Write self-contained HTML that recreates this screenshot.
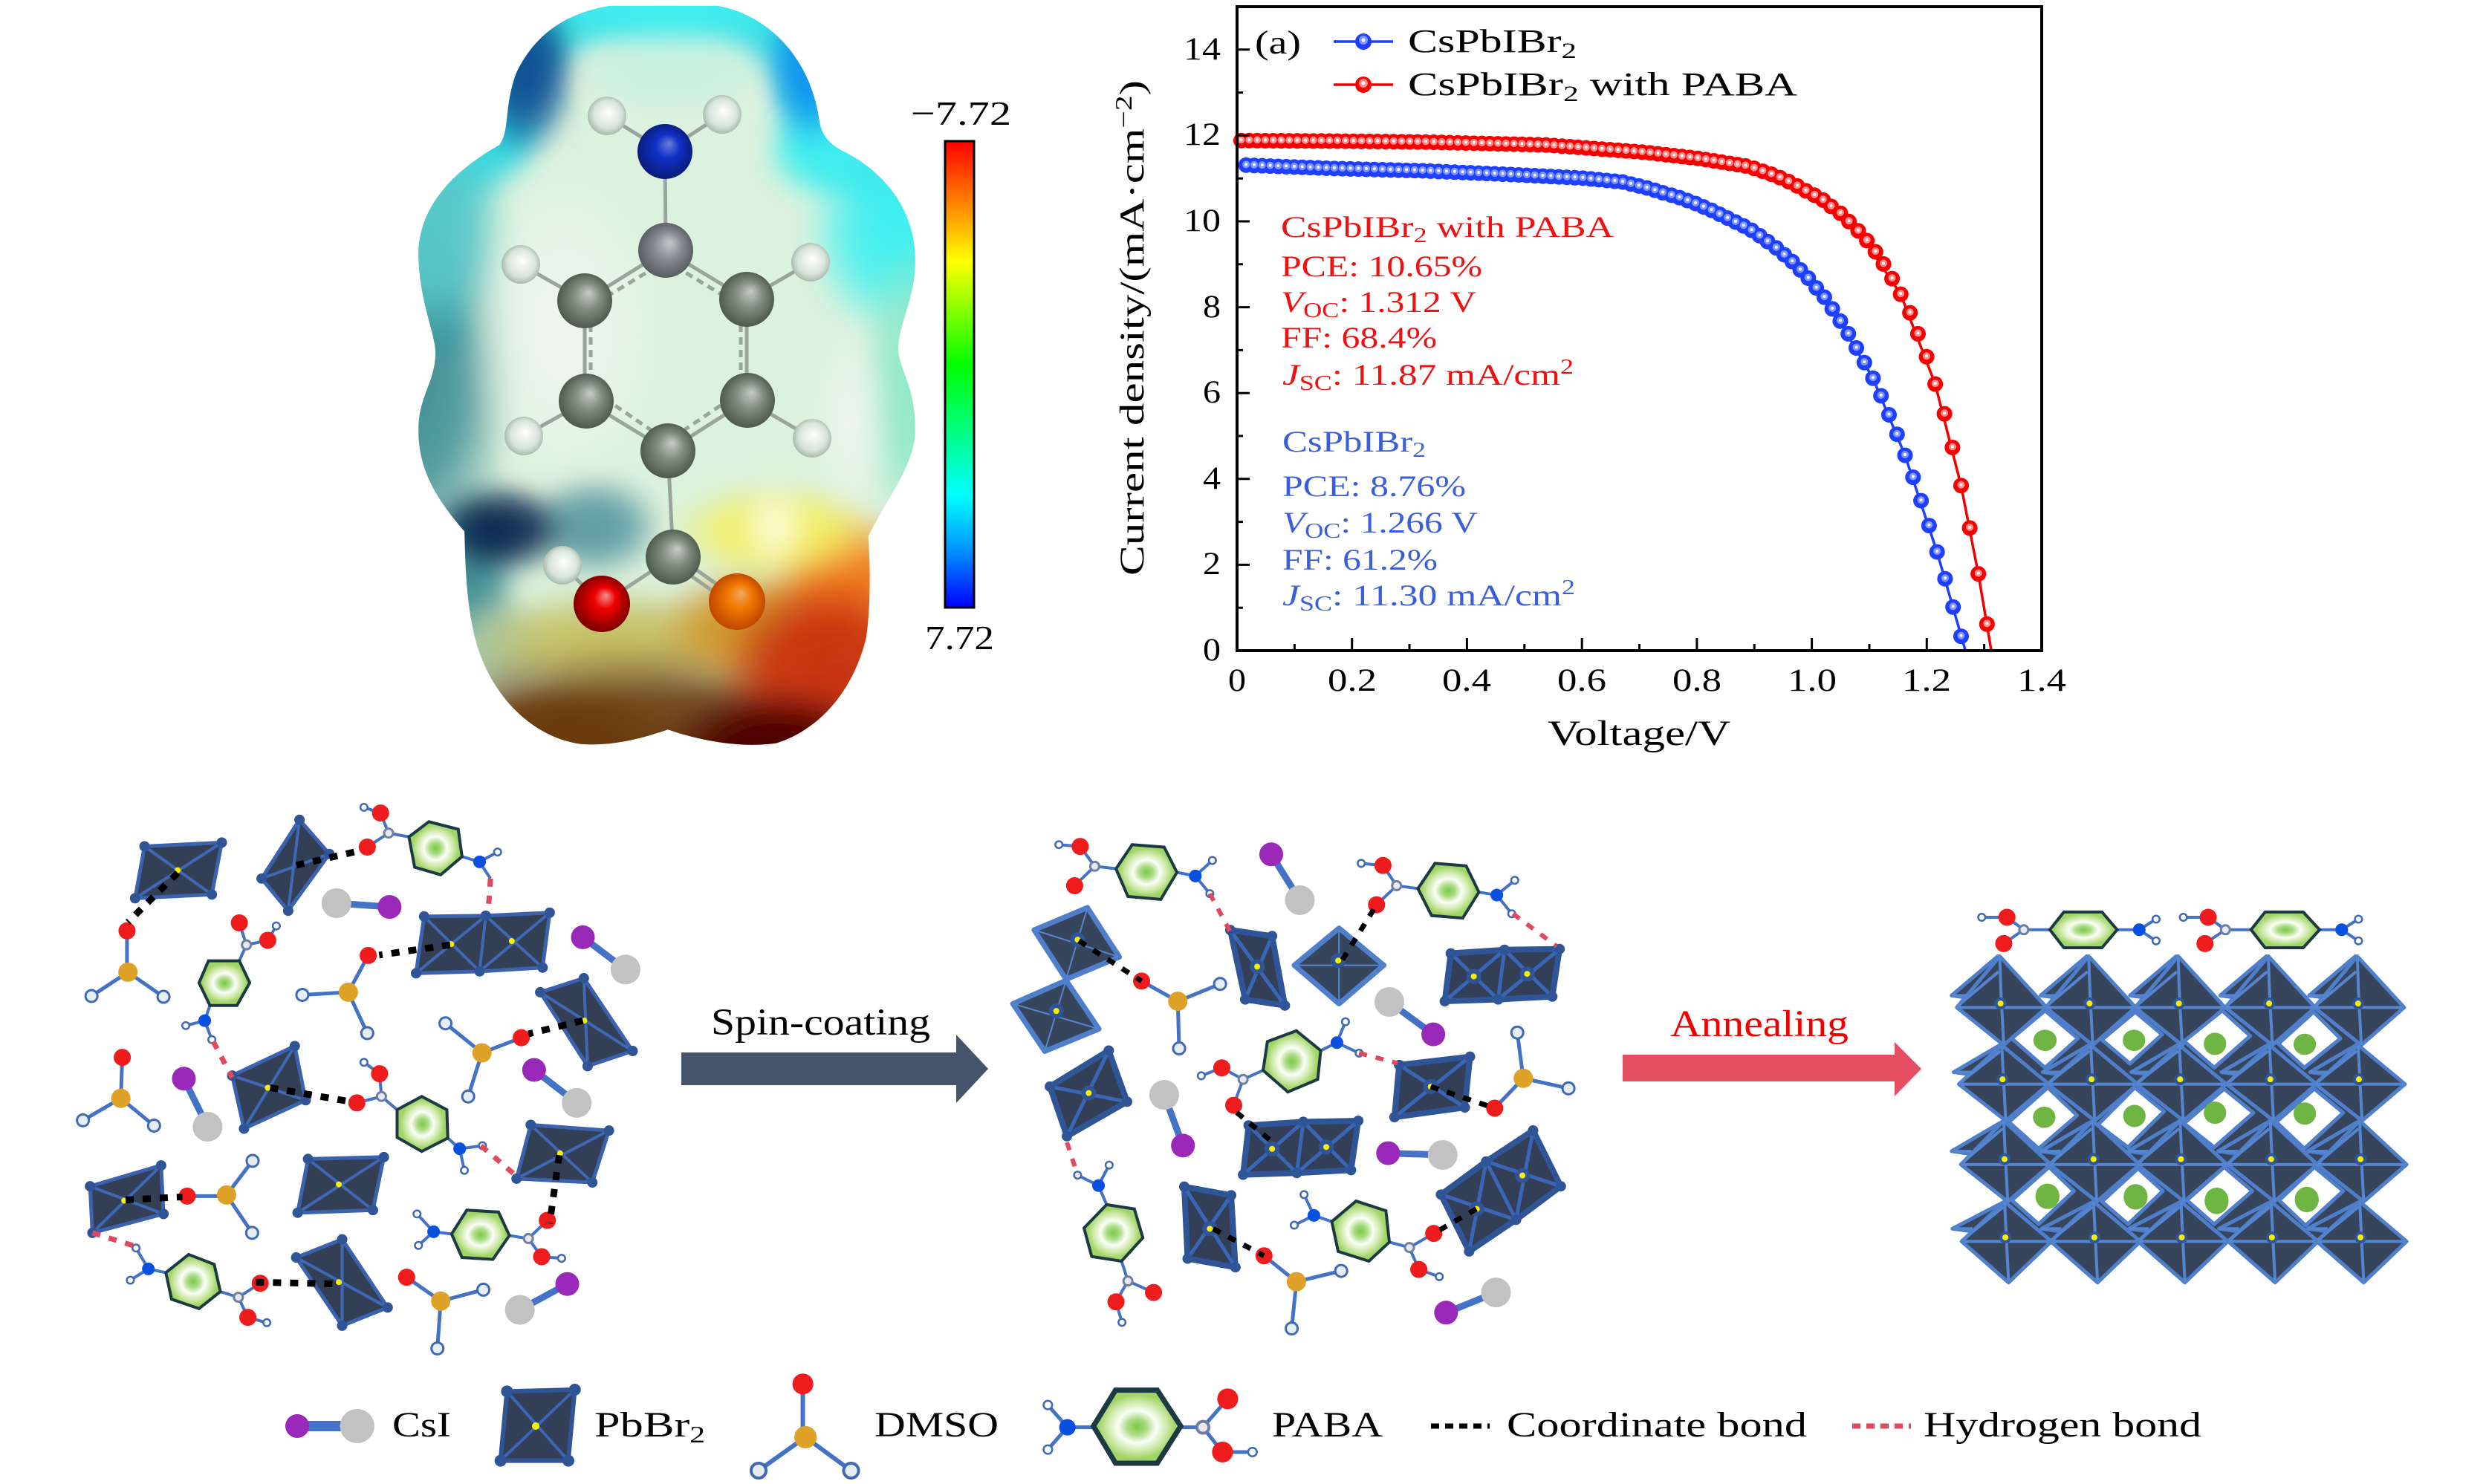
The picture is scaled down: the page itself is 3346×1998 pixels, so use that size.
<!DOCTYPE html>
<html><head><meta charset="utf-8"><style>
html,body{margin:0;padding:0;background:#fff}
svg{display:block}
path,polygon,polyline,line{vector-effect:non-scaling-stroke}
text{font-family:"Liberation Serif",serif;fill:#000}
.bd{fill:none;stroke:#4472c4;stroke-width:5}
.cs{fill:none;stroke:#4472c4;stroke-width:9}
.cb{fill:none;stroke:#000;stroke-width:9;stroke-dasharray:11 12}
.hb{fill:none;stroke:#e04a60;stroke-width:7;stroke-dasharray:11 12}
.at{fill:none;stroke-linecap:round}
.oct{fill:#333f54;stroke:#3b62ae;stroke-width:5;stroke-linejoin:round}
.ln{fill:none;stroke:#3f68b5;stroke-width:4}
.oc2{fill:#323f56;stroke:#2f5597;stroke-width:8;stroke-linejoin:round}
.ln2{fill:none;stroke:#3a66b8;stroke-width:5}
.oc3{fill:#37455c;stroke:#4f7fcb;stroke-width:5;stroke-linejoin:round}
.ln3{fill:none;stroke:#5585cf;stroke-width:2}
.ring{stroke:#1c3a44;stroke-width:4;fill:url(#rg)}
.O{stroke:#ee1c1c;stroke-width:23}
.S{stroke:#dfa228;stroke-width:26}
.HO{stroke:#3f68b5;stroke-width:19}
.HI{stroke:#e6edf6;stroke-width:13}
.hO{stroke:#3f68b5;stroke-width:12}
.hI{stroke:#fff;stroke-width:7}
.N{stroke:#0a50e0;stroke-width:17}
.C{stroke:#6f7fa2;stroke-width:15}
.CI{stroke:#e8e8ee;stroke-width:9}
.I{stroke:#9a28b8;stroke-width:32}
.G{stroke:#c2c2c2;stroke-width:40}
.Y{stroke:#f8f000;stroke-width:8}
.Z{stroke:#2f5597;stroke-width:20}
.K{stroke:#2f5597;stroke-width:14}
</style></head><body>
<svg xmlns="http://www.w3.org/2000/svg" width="3346" height="1998" viewBox="0 0 3346 1998">
<defs>
<radialGradient id="rg"><stop offset="0" stop-color="#7cc848"/><stop offset=".22" stop-color="#aadc84"/><stop offset=".44" stop-color="#fbfdf8"/><stop offset=".68" stop-color="#cde9a8"/><stop offset=".88" stop-color="#a0d466"/></radialGradient>
<linearGradient id="cbar" x1="0" y1="0" x2="0" y2="1"><stop offset="0" stop-color="#ff0000"/><stop offset=".13" stop-color="#ff8000"/><stop offset=".257" stop-color="#ffff00"/><stop offset=".48" stop-color="#00ff00"/><stop offset=".62" stop-color="#00ff80"/><stop offset=".76" stop-color="#00ffff"/><stop offset=".88" stop-color="#0090ff"/><stop offset="1" stop-color="#0000ff"/></linearGradient>
<radialGradient id="aC" cx=".5" cy=".5" r=".55" fx=".58" fy=".35"><stop offset="0" stop-color="#c6ccc4"/><stop offset=".45" stop-color="#7f8c7e"/><stop offset="1" stop-color="#465244"/></radialGradient>
<radialGradient id="aC2" cx=".5" cy=".5" r=".55" fx=".58" fy=".35"><stop offset="0" stop-color="#c8c8cc"/><stop offset=".45" stop-color="#888c90"/><stop offset="1" stop-color="#50565a"/></radialGradient>
<radialGradient id="aH" cx=".5" cy=".5" r=".6" fx=".55" fy=".4"><stop offset="0" stop-color="#ffffff"/><stop offset=".6" stop-color="#d8e4da"/><stop offset="1" stop-color="#8fa294"/></radialGradient>
<radialGradient id="aN" cx=".5" cy=".5" r=".55" fx=".58" fy=".35"><stop offset="0" stop-color="#6a7fd8"/><stop offset=".4" stop-color="#1030c8"/><stop offset="1" stop-color="#081a70"/></radialGradient>
<radialGradient id="aO" cx=".5" cy=".5" r=".55" fx=".58" fy=".35"><stop offset="0" stop-color="#f09090"/><stop offset=".35" stop-color="#ee0000"/><stop offset="1" stop-color="#700000"/></radialGradient>
<radialGradient id="aO2" cx=".5" cy=".5" r=".55" fx=".58" fy=".35"><stop offset="0" stop-color="#f0a860"/><stop offset=".4" stop-color="#f07800"/><stop offset="1" stop-color="#b84000"/></radialGradient>
<radialGradient id="t1"><stop offset="0" stop-color="#0a4a90"/><stop offset=".5" stop-color="#0a4a90" stop-opacity=".85"/><stop offset="1" stop-color="#0a4a90" stop-opacity="0"/></radialGradient>
<radialGradient id="t2"><stop offset="0" stop-color="#0a90f0"/><stop offset=".5" stop-color="#0a90f0" stop-opacity=".85"/><stop offset="1" stop-color="#0a90f0" stop-opacity="0"/></radialGradient>
<radialGradient id="t3"><stop offset="0" stop-color="#40f0f0"/><stop offset=".5" stop-color="#40f0f0" stop-opacity=".85"/><stop offset="1" stop-color="#40f0f0" stop-opacity="0"/></radialGradient>
<radialGradient id="t4"><stop offset="0" stop-color="#3f8e94"/><stop offset=".5" stop-color="#3f8e94" stop-opacity=".85"/><stop offset="1" stop-color="#3f8e94" stop-opacity="0"/></radialGradient>
<radialGradient id="t5"><stop offset="0" stop-color="#f0f6ee"/><stop offset=".5" stop-color="#f0f6ee" stop-opacity=".6"/><stop offset="1" stop-color="#f0f6ee" stop-opacity="0"/></radialGradient>
<radialGradient id="t6"><stop offset="0" stop-color="#90e8c8"/><stop offset=".5" stop-color="#90e8c8" stop-opacity=".85"/><stop offset="1" stop-color="#90e8c8" stop-opacity="0"/></radialGradient>
<radialGradient id="t7"><stop offset="0" stop-color="#08264f"/><stop offset=".5" stop-color="#08264f" stop-opacity=".9"/><stop offset="1" stop-color="#08264f" stop-opacity="0"/></radialGradient>
<radialGradient id="t8"><stop offset="0" stop-color="#5a98a0"/><stop offset=".5" stop-color="#5a98a0" stop-opacity=".85"/><stop offset="1" stop-color="#5a98a0" stop-opacity="0"/></radialGradient>
<radialGradient id="t9"><stop offset="0" stop-color="#c4c060"/><stop offset=".5" stop-color="#c4c060" stop-opacity=".85"/><stop offset="1" stop-color="#c4c060" stop-opacity="0"/></radialGradient>
<radialGradient id="t10"><stop offset="0" stop-color="#f4f060"/><stop offset=".5" stop-color="#f4f060" stop-opacity=".85"/><stop offset="1" stop-color="#f4f060" stop-opacity="0"/></radialGradient>
<radialGradient id="t11"><stop offset="0" stop-color="#fbfbd8"/><stop offset=".5" stop-color="#fbfbd8" stop-opacity=".75"/><stop offset="1" stop-color="#fbfbd8" stop-opacity="0"/></radialGradient>
<radialGradient id="t12"><stop offset="0" stop-color="#f07818"/><stop offset=".5" stop-color="#f07818" stop-opacity=".9"/><stop offset="1" stop-color="#f07818" stop-opacity="0"/></radialGradient>
<radialGradient id="t13"><stop offset="0" stop-color="#c83010"/><stop offset=".55" stop-color="#c83010" stop-opacity=".9"/><stop offset="1" stop-color="#c83010" stop-opacity="0"/></radialGradient>
<radialGradient id="t14"><stop offset="0" stop-color="#4a0000"/><stop offset=".5" stop-color="#4a0000" stop-opacity=".9"/><stop offset="1" stop-color="#4a0000" stop-opacity="0"/></radialGradient>
<radialGradient id="t15"><stop offset="0" stop-color="#6a3a10"/><stop offset=".6" stop-color="#6a3a10" stop-opacity=".9"/><stop offset="1" stop-color="#6a3a10" stop-opacity="0"/></radialGradient>
<radialGradient id="t16"><stop offset="0" stop-color="#a8c8a8"/><stop offset=".5" stop-color="#a8c8a8" stop-opacity=".85"/><stop offset="1" stop-color="#a8c8a8" stop-opacity="0"/></radialGradient>
<radialGradient id="t18"><stop offset="0" stop-color="#5ac8c8"/><stop offset=".5" stop-color="#5ac8c8" stop-opacity=".85"/><stop offset="1" stop-color="#5ac8c8" stop-opacity="0"/></radialGradient>
<radialGradient id="t19"><stop offset="0" stop-color="#c8f0e0"/><stop offset=".5" stop-color="#c8f0e0" stop-opacity=".85"/><stop offset="1" stop-color="#c8f0e0" stop-opacity="0"/></radialGradient>
<radialGradient id="t20"><stop offset="0" stop-color="#d09020"/><stop offset=".5" stop-color="#d09020" stop-opacity=".85"/><stop offset="1" stop-color="#d09020" stop-opacity="0"/></radialGradient>
<filter id="bl" filterUnits="userSpaceOnUse" x="-100" y="-100" width="1768" height="1768"><feGaussianBlur stdDeviation="30"/></filter>
<filter id="bl2" filterUnits="userSpaceOnUse" x="-200" y="-200" width="1968" height="2000"><feGaussianBlur stdDeviation="24"/></filter>
<clipPath id="sil"><path d="M560 12L810 12C930 30 1030 120 1050 250C1055 280 1075 300 1110 315C1210 360 1275 440 1275 540C1275 620 1235 670 1235 725C1240 770 1275 800 1275 890C1275 960 1210 1030 1165 1110C1170 1180 1170 1260 1160 1320C1130 1430 1050 1510 950 1538C860 1550 760 1530 695 1510C630 1530 560 1545 490 1540C370 1525 270 1430 240 1310C222 1240 220 1170 218 1100C160 1040 110 980 110 890C110 820 150 790 150 730C150 690 110 620 110 520C115 420 200 350 300 300C325 270 310 220 340 150C390 60 470 25 560 12Z"/></clipPath>

<path id="bs" fill="none" stroke-linecap="round" d="M1374 1304h.1M1361 1244h.1M1348 1186h.1M1335 1131h.1M1322 1077h.1M1309 1026h.1M1296 978h.1M1283 933h.1M1270 890h.1M1257 850h.1M1244 811h.1M1231 775h.1M1217 743h.1M1204 713h.1M1191 684h.1M1178 658h.1M1165 633h.1M1152 609h.1M1139 590h.1M1126 570h.1M1113 553h.1M1100 536h.1M1087 522h.1M1074 508h.1M1060 495h.1M1047 483h.1M1034 472h.1M1021 463h.1M1008 455h.1M995 447h.1M982 439h.1M969 431h.1M956 424h.1M943 417h.1M930 411h.1M917 405h.1M904 400h.1M890 395h.1M877 390h.1M864 385h.1M851 381h.1M838 377h.1"/>
<path id="bf" fill="none" stroke-linecap="round" stroke-dasharray="0 10.8" d="M825 373L760 365L650 358L500 350L350 345L205 338"/>
<path id="rs" fill="none" stroke-linecap="round" d="M1416 1279h.1M1402 1176h.1M1388 1082h.1M1374 995h.1M1360 917h.1M1347 848h.1M1332 787h.1M1318 731h.1M1304 684h.1M1291 641h.1M1276 603h.1M1262 571h.1M1248 541h.1M1235 516h.1M1221 493h.1M1207 473h.1M1192 454h.1M1178 437h.1M1163 423h.1M1150 410h.1M1136 400h.1M1122 391h.1M1108 381h.1M1094 372h.1M1080 364h.1M1066 357h.1M1052 351h.1M1038 345h.1"/>
<path id="rf" fill="none" stroke-linecap="round" stroke-dasharray="0 10.8" d="M1024 340L950 325L860 312L700 297L500 291L350 289L205 288"/>

<g id="c1"><polygon class="oc3" points="-125,-45 -10,-193 0,-20"/><polygon class="oc3" points="-5,-193 112,0 5,142 -112,0"/><path class="ln3" d="M-5 -193L-2 -60L5 142M-112 0H112M-125 -45H-80M-110 -5L-8 -135" style="stroke-width:4"/><path class="at Z" d="M-3 -15h.1" style="stroke-width:16"/><path class="at Y" d="M-3 -15h.1"/></g>
<g id="c2"><polygon class="oc3" points="-125,-45 -10,-147 0,-20"/><polygon class="oc3" points="-5,-147 112,0 5,138 -112,0"/><path class="ln3" d="M-5 -147L-2 -60L5 138M-112 0H112M-125 -45H-80M-110 -5L-8 -125" style="stroke-width:4"/><path class="at Z" d="M-3 -18h.1" style="stroke-width:16"/><path class="at Y" d="M-3 -18h.1"/></g>
<g id="c3"><polygon class="oc3" points="-135,-50 -5,-165 0,-20"/><polygon class="oc3" points="-5,-165 112,0 5,140 -112,0"/><path class="ln3" d="M-5 -165L-2 -60L5 140M-112 0H112M-135 -50H-85M-110 -5L-8 -135" style="stroke-width:4"/><path class="at Z" d="M-3 -20h.1" style="stroke-width:16"/><path class="at Y" d="M-3 -20h.1"/></g>
<g id="c4"><polygon class="oc3" points="-135,-48 -5,-150 0,-20"/><polygon class="oc3" points="-5,-150 112,0 5,155 -112,0"/><path class="ln3" d="M-5 -150L-2 -60L5 155M-112 0H112M-135 -48H-85M-110 -5L-8 -130" style="stroke-width:4"/><path class="at Z" d="M-3 -15h.1" style="stroke-width:16"/><path class="at Y" d="M-3 -15h.1"/></g>
</defs>

<!-- ESP surface -->
<g transform="translate(500,0) scale(.574,.6505)">
<g clip-path="url(#sil)">
<rect x="0" y="0" width="1568" height="1568" fill="#dcf2de"/>
<path filter="url(#bl)" fill="none" stroke="#38d8e0" stroke-width="80" d="M150 730C150 690 110 620 110 520C115 420 200 350 300 300C325 270 310 220 340 150C390 60 470 25 560 12L810 12C930 30 1030 120 1050 250C1055 280 1075 300 1110 315C1210 360 1275 440 1275 540"/>
<g filter="url(#bl2)">
<ellipse cx="90" cy="780" rx="250" ry="440" fill="url(#t4)"/>
<ellipse cx="130" cy="480" rx="210" ry="230" fill="url(#t18)"/>
<ellipse cx="1240" cy="480" rx="230" ry="230" fill="url(#t3)"/>
<ellipse cx="1060" cy="310" rx="150" ry="110" fill="url(#t3)"/>
<ellipse cx="1275" cy="800" rx="140" ry="320" fill="url(#t6)"/>
<ellipse cx="700" cy="0" rx="400" ry="110" fill="url(#t3)"/>
<ellipse cx="360" cy="140" rx="130" ry="190" fill="url(#t1)"/>
<ellipse cx="1030" cy="130" rx="110" ry="180" fill="url(#t2)"/>
<ellipse cx="700" cy="150" rx="230" ry="85" fill="url(#t19)"/>
<ellipse cx="450" cy="680" rx="240" ry="340" fill="url(#t5)"/>
<ellipse cx="1130" cy="870" rx="90" ry="200" fill="url(#t5)"/>
<ellipse cx="230" cy="1210" rx="120" ry="180" fill="url(#t4)"/>
<ellipse cx="520" cy="1090" rx="170" ry="110" fill="url(#t8)"/>
<ellipse cx="300" cy="1095" rx="170" ry="100" fill="url(#t7)"/>
<ellipse cx="300" cy="1340" rx="140" ry="110" fill="url(#t16)"/>
<ellipse cx="560" cy="1330" rx="340" ry="120" fill="url(#t9)"/>
<ellipse cx="650" cy="1600" rx="780" ry="270" fill="url(#t15)"/>
<ellipse cx="440" cy="1530" rx="260" ry="120" fill="url(#t15)"/>
<ellipse cx="900" cy="1300" rx="240" ry="130" fill="url(#t20)"/>
<ellipse cx="1120" cy="1220" rx="200" ry="170" fill="url(#t12)"/>
<ellipse cx="1070" cy="1400" rx="260" ry="210" fill="url(#t13)"/>
<ellipse cx="950" cy="1100" rx="260" ry="105" fill="url(#t10)"/>
<ellipse cx="950" cy="1560" rx="280" ry="140" fill="url(#t14)"/>
<ellipse cx="945" cy="1090" rx="80" ry="80" fill="url(#t11)"/>
</g>
</g>
</g>
<!-- ESP molecule (real coords) -->
<g fill="none" stroke="#99a59a" stroke-width="5">
<path d="M895 204L896 337M895 204L817 156M895 204L972 154M896 337L787 405M896 337L1005 403M787 405V540M1005 403V539M789 540L899 607M1006 539L899 607M787 405L701 356M1005 403L1091 353M789 540L705 587M1006 539L1093 590M899 607L906 750M906 750L810 813M810 813L757 761"/>
<path d="M906 745L992 806M906 758L986 815"/>
<path d="M802 408L890 355M990 408L903 355M795 420V525M997 420V525M800 527L885 585M998 527L912 585" stroke-dasharray="10 7"/>
</g>
<g>
<circle cx="817" cy="156" r="26" fill="url(#aH)"/><circle cx="972" cy="154" r="26" fill="url(#aH)"/>
<circle cx="701" cy="356" r="26" fill="url(#aH)"/><circle cx="1091" cy="353" r="26" fill="url(#aH)"/>
<circle cx="705" cy="587" r="26" fill="url(#aH)"/><circle cx="1093" cy="590" r="26" fill="url(#aH)"/>
<circle cx="757" cy="761" r="26" fill="url(#aH)"/>
<ellipse cx="895" cy="204" rx="37" ry="37" fill="url(#aN)"/>
<circle cx="896" cy="337" r="37" fill="url(#aC2)"/>
<circle cx="787" cy="405" r="37" fill="url(#aC)"/><circle cx="1005" cy="403" r="37" fill="url(#aC)"/>
<circle cx="789" cy="540" r="37" fill="url(#aC)"/><circle cx="1006" cy="539" r="37" fill="url(#aC)"/>
<circle cx="899" cy="607" r="37" fill="url(#aC)"/><circle cx="906" cy="750" r="37" fill="url(#aC)"/>
<circle cx="810" cy="813" r="38" fill="url(#aO)"/><circle cx="992" cy="810" r="38" fill="url(#aO2)"/>
</g>
<!-- colorbar -->
<rect x="1272" y="190" width="39" height="628" fill="url(#cbar)" stroke="#000" stroke-width="3"/>
<text x="1226" y="168" font-size="46" textLength="135" lengthAdjust="spacingAndGlyphs">−7.72</text>
<text x="1245" y="874" font-size="46" textLength="93" lengthAdjust="spacingAndGlyphs">7.72</text>

<!-- Plot -->
<g transform="translate(1500,0) scale(.8293,.657)">
<polyline fill="none" stroke="#1f3fff" stroke-width="3.5" points="205,338 500,350 650,358 825,373 917,405 1008,455 1100,536 1165,633 1231,775 1283,933 1335,1131 1381,1333"/>
<polyline fill="none" stroke="#f00000" stroke-width="3.5" points="205,288 500,291 860,312 1024,340 1136,400 1207,473 1276,603 1332,787 1374,995 1402,1176 1423,1333"/>
<use href="#bf" stroke="#1f3fff" stroke-width="21"/><use href="#bs" stroke="#1f3fff" stroke-width="21"/>
<use href="#bf" stroke="#8096ff" stroke-width="10" transform="translate(0,-1.5)"/><use href="#bs" stroke="#8096ff" stroke-width="10" transform="translate(0,-1.5)"/>
<use href="#bf" stroke="#f2f4ff" stroke-width="4" transform="translate(0,-1.5)"/><use href="#bs" stroke="#f2f4ff" stroke-width="4" transform="translate(0,-1.5)"/>
<use href="#rf" stroke="#f60000" stroke-width="21"/><use href="#rs" stroke="#f60000" stroke-width="21"/>
<use href="#rf" stroke="#ff8c8c" stroke-width="10" transform="translate(0,-1.5)"/><use href="#rs" stroke="#ff8c8c" stroke-width="10" transform="translate(0,-1.5)"/>
<use href="#rf" stroke="#fff2f2" stroke-width="4" transform="translate(0,-1.5)"/><use href="#rs" stroke="#fff2f2" stroke-width="4" transform="translate(0,-1.5)"/>
</g>
<rect x="1665" y="9" width="1083" height="867" fill="none" stroke="#000" stroke-width="4"/>
<path fill="none" stroke="#000" stroke-width="3" d="M1665 760.4H1682M1665 644.8H1682M1665 529.2H1682M1665 413.6H1682M1665 298H1682M1665 182.4H1682M1665 66.8H1682M1665 818.2H1673M1665 702.6H1673M1665 587H1673M1665 471.4H1673M1665 355.8H1673M1665 240.2H1673M1665 124.6H1673M1819.7 876V859M1974.4 876V859M2129.2 876V859M2283.9 876V859M2438.6 876V859M2593.3 876V859M1742.4 876V867M1897 876V867M2051.8 876V867M2206.5 876V867M2361.2 876V867M2516 876V867M2670.6 876V867"/>
<g font-size="43" text-anchor="end">
<text x="1643" y="889" textLength="24" lengthAdjust="spacingAndGlyphs">0</text>
<text x="1643" y="773" textLength="24" lengthAdjust="spacingAndGlyphs">2</text>
<text x="1643" y="658" textLength="24" lengthAdjust="spacingAndGlyphs">4</text>
<text x="1643" y="542" textLength="24" lengthAdjust="spacingAndGlyphs">6</text>
<text x="1643" y="427" textLength="24" lengthAdjust="spacingAndGlyphs">8</text>
<text x="1643" y="311" textLength="50" lengthAdjust="spacingAndGlyphs">10</text>
<text x="1643" y="195" textLength="50" lengthAdjust="spacingAndGlyphs">12</text>
<text x="1643" y="80" textLength="50" lengthAdjust="spacingAndGlyphs">14</text>
</g>
<g font-size="43" text-anchor="middle">
<text x="1665" y="930" textLength="24" lengthAdjust="spacingAndGlyphs">0</text>
<text x="1820" y="930" textLength="66" lengthAdjust="spacingAndGlyphs">0.2</text>
<text x="1974" y="930" textLength="66" lengthAdjust="spacingAndGlyphs">0.4</text>
<text x="2129" y="930" textLength="66" lengthAdjust="spacingAndGlyphs">0.6</text>
<text x="2284" y="930" textLength="66" lengthAdjust="spacingAndGlyphs">0.8</text>
<text x="2439" y="930" textLength="66" lengthAdjust="spacingAndGlyphs">1.0</text>
<text x="2593" y="930" textLength="66" lengthAdjust="spacingAndGlyphs">1.2</text>
<text x="2748" y="930" textLength="66" lengthAdjust="spacingAndGlyphs">1.4</text>
</g>
<text x="2083" y="1003" font-size="48" textLength="246" lengthAdjust="spacingAndGlyphs">Voltage/V</text>
<text transform="translate(1539,775) rotate(-90)" font-size="47" textLength="667" lengthAdjust="spacingAndGlyphs">Current density/(mA·cm<tspan dy="-16" font-size="32">−2</tspan><tspan dy="16">)</tspan></text>
<text x="1689" y="72" font-size="44" textLength="62" lengthAdjust="spacingAndGlyphs">(a)</text>
<path d="M1795 56H1875" stroke="#1f3fff" stroke-width="3.5"/>
<circle cx="1835" cy="56" r="11" fill="#1f3fff"/><circle cx="1835" cy="54" r="6" fill="#8096ff"/><circle cx="1835" cy="54" r="2.5" fill="#f2f4ff"/>
<path d="M1795 114H1875" stroke="#f00000" stroke-width="3.5"/>
<circle cx="1835" cy="114" r="11" fill="#f60000"/><circle cx="1835" cy="112" r="6" fill="#ff8c8c"/><circle cx="1835" cy="112" r="2.5" fill="#fff2f2"/>
<text x="1895" y="70" font-size="44" textLength="227" lengthAdjust="spacingAndGlyphs">CsPbIBr<tspan dy="8" font-size="30">2</tspan></text>
<text x="1895" y="128" font-size="44" textLength="524" lengthAdjust="spacingAndGlyphs">CsPbIBr<tspan dy="8" font-size="30">2</tspan><tspan dy="-8"> with PABA</tspan></text>

<g font-size="40">
<text style="fill:#ee1111" x="1724" y="319" textLength="448" lengthAdjust="spacingAndGlyphs">CsPbIBr<tspan dy="7" font-size="28">2</tspan><tspan dy="-7"> with PABA</tspan></text>
<text style="fill:#ee1111" x="1724" y="372" textLength="271" lengthAdjust="spacingAndGlyphs">PCE: 10.65%</text>
<text style="fill:#ee1111" x="1724" y="420" textLength="263" lengthAdjust="spacingAndGlyphs"><tspan font-style="italic">V</tspan><tspan dy="7" font-size="28">OC</tspan><tspan dy="-7">: 1.312 V</tspan></text>
<text style="fill:#ee1111" x="1724" y="468" textLength="210" lengthAdjust="spacingAndGlyphs">FF: 68.4%</text>
<text style="fill:#ee1111" x="1726" y="518" textLength="392" lengthAdjust="spacingAndGlyphs"><tspan font-style="italic">J</tspan><tspan dy="7" font-size="28">SC</tspan><tspan dy="-7">: 11.87 mA/cm</tspan><tspan dy="-15" font-size="28">2</tspan></text>
<text style="fill:#3a5fd9" x="1726" y="608" textLength="193" lengthAdjust="spacingAndGlyphs">CsPbIBr<tspan dy="7" font-size="28">2</tspan></text>
<text style="fill:#3a5fd9" x="1726" y="668" textLength="247" lengthAdjust="spacingAndGlyphs">PCE: 8.76%</text>
<text style="fill:#3a5fd9" x="1726" y="717" textLength="263" lengthAdjust="spacingAndGlyphs"><tspan font-style="italic">V</tspan><tspan dy="7" font-size="28">OC</tspan><tspan dy="-7">: 1.266 V</tspan></text>
<text style="fill:#3a5fd9" x="1726" y="767" textLength="209" lengthAdjust="spacingAndGlyphs">FF: 61.2%</text>
<text style="fill:#3a5fd9" x="1726" y="815" textLength="394" lengthAdjust="spacingAndGlyphs"><tspan font-style="italic">J</tspan><tspan dy="7" font-size="28">SC</tspan><tspan dy="-7">: 11.30 mA/cm</tspan><tspan dy="-15" font-size="28">2</tspan></text>
</g>

<!-- Scene 1 -->
<g transform="translate(0,1040) scale(.6378,.5102)">
<path class="oct" d="M305 195L468 185L447 322L285 332ZM632 125L695 215L608 365L552 280ZM895 380L1025 378L1160 370L1145 515L1012 525L878 530ZM1140 580L1232 543L1335 735L1240 775ZM490 800L622 722L645 865L515 940ZM1120 930L1285 945L1250 1082L1090 1072ZM650 1020L810 1015L787 1155L628 1162ZM190 1092L340 1037L345 1165L195 1215ZM625 1280L722 1232L818 1412L722 1460Z"/>
<path class="ln" d="M305 195L447 322M468 185L285 332M632 125L608 365M552 280L695 215M1025 378L1012 525M895 380L1012 525M1025 378L878 530M1025 378L1145 515M1160 370L1012 525M1140 580L1335 735M1232 543L1240 775M490 800L645 865M622 722L515 940M1120 930L1250 1082M1285 945L1090 1072M650 1020L787 1155M810 1015L628 1162M190 1092L345 1165M340 1037L195 1215M625 1280L818 1412M722 1232L722 1460"/>
<path class="at K" d="M305 195h.1M468 185h.1M447 322h.1M285 332h.1M632 125h.1M695 215h.1M608 365h.1M552 280h.1M895 380h.1M1025 378h.1M1160 370h.1M1145 515h.1M1012 525h.1M878 530h.1M1140 580h.1M1232 543h.1M1335 735h.1M1240 775h.1M490 800h.1M622 722h.1M645 865h.1M515 940h.1M1120 930h.1M1285 945h.1M1250 1082h.1M1090 1072h.1M650 1020h.1M810 1015h.1M787 1155h.1M628 1162h.1M190 1092h.1M340 1037h.1M345 1165h.1M195 1215h.1M625 1280h.1M722 1232h.1M818 1412h.1M722 1460h.1"/>
<path class="at Y" d="M375 258h.1M952 453h.1M1080 445h.1M1233 655h.1M565 832h.1M1182 1005h.1M715 1087h.1M262 1130h.1M715 1345h.1"/>
<path class="bd" d="M268 418V527M270 527L193 590M270 527L345 592M777 483L735 580M735 580L638 587M735 580L775 688M1100 700L1017 740M1017 740L940 662M1017 740L988 855M258 752L255 860M255 860L175 918M255 860L325 932M395 1118H478M478 1115L533 1025M478 1115L532 1215M858 1332L930 1395M930 1395L1020 1365M930 1395L923 1520"/>
<path class="cs" d="M710 345L822 355M1320 520L1230 435M1217 872L1127 785M438 935L388 808M1097 1418L1197 1350"/>
<path class="at G" d="M710 345h.1M1320 520h.1M1217 872h.1M438 935h.1M1097 1418h.1"/>
<path class="at I" d="M822 355h.1M1230 435h.1M1127 785h.1M388 808h.1M1197 1350h.1"/>
<path class="bd" style="stroke-width:4" d="M820 160L863 170M820 160L775 197M820 160L803 107M803 107L768 92M975 222L1012 236M1012 236L1050 210M1012 236L1035 280M520 455L505 497M520 455L505 397M520 455L565 443M565 443L583 405M443 615L432 655M432 655L392 668M432 655L447 705M805 855L838 890M805 855L753 872M805 855L801 795M801 795L768 765M945 965L970 993M970 993L1018 985M970 993L980 1050M1115 1230L1075 1222M1115 1230L1155 1182M1115 1230L1143 1278M1143 1278L1185 1282M953 1218L915 1212M915 1212L880 1165M915 1212L883 1248M503 1385L465 1370M503 1385L549 1348M503 1385L523 1438M523 1438L563 1452M350 1320L313 1310M313 1310L275 1340M313 1310L287 1255"/>
<polygon class="ring" points="905,130 967,150 975,222 930,270 875,250 863,170"/>
<polygon class="ring" points="440,497 505,497 527,555 500,615 443,615 420,555"/>
<polygon class="ring" points="890,855 943,890 945,965 890,1000 838,963 838,890"/>
<polygon class="ring" points="985,1155 1052,1160 1075,1222 1040,1285 975,1280 953,1218"/>
<polygon class="ring" points="398,1272 452,1298 465,1370 420,1415 362,1390 350,1320"/>
<path class="at HO" d="M193 590h.1M345 592h.1M638 587h.1M775 688h.1M940 662h.1M988 855h.1M175 918h.1M325 932h.1M533 1025h.1M532 1215h.1M1020 1365h.1M923 1520h.1"/>
<path class="at HI" d="M193 590h.1M345 592h.1M638 587h.1M775 688h.1M940 662h.1M988 855h.1M175 918h.1M325 932h.1M533 1025h.1M532 1215h.1M1020 1365h.1M923 1520h.1"/>
<path class="at hO" d="M768 92h.1M1050 210h.1M583 405h.1M392 668h.1M447 705h.1M768 765h.1M1018 985h.1M980 1050h.1M1185 1282h.1M880 1165h.1M883 1248h.1M563 1452h.1M275 1340h.1M287 1255h.1"/>
<path class="at hI" d="M768 92h.1M1050 210h.1M583 405h.1M392 668h.1M447 705h.1M768 765h.1M1018 985h.1M980 1050h.1M1185 1282h.1M880 1165h.1M883 1248h.1M563 1452h.1M275 1340h.1M287 1255h.1"/>
<path class="at C" d="M820 160h.1M520 455h.1M805 855h.1M1115 1230h.1M503 1385h.1"/>
<path class="at CI" d="M820 160h.1M520 455h.1M805 855h.1M1115 1230h.1M503 1385h.1"/>
<path class="at N" d="M1012 236h.1M432 655h.1M970 993h.1M915 1212h.1M313 1310h.1"/>
<path class="at S" d="M270 527h.1M735 580h.1M1017 740h.1M255 860h.1M478 1115h.1M930 1395h.1"/>
<path class="at O" d="M268 418h.1M777 483h.1M1100 700h.1M258 752h.1M395 1118h.1M858 1332h.1M775 197h.1M803 107h.1M505 397h.1M565 443h.1M753 872h.1M801 795h.1M1155 1182h.1M1143 1278h.1M549 1348h.1M523 1438h.1"/>
<path class="cb" d="M375 265L270 395M625 245L765 205M950 455L800 482M1230 655L1115 690M570 832L745 870M1180 1010L1160 1190M265 1128L385 1120M540 1345L720 1350"/>
<path class="hb" d="M450 710L490 805M1035 280L1030 370M1015 985L1085 1060M195 1215L285 1250"/>
</g>

<!-- Arrow 1 -->
<polygon fill="#44546a" points="917,1417 1287,1417 1287,1393 1330,1439 1287,1485 1287,1461 917,1461"/>
<text x="957" y="1393" font-size="51" textLength="295" lengthAdjust="spacingAndGlyphs">Spin-coating</text>

<!-- Scene 2 -->
<g transform="translate(1300,1080) scale(.574,.4847)">
<path class="oc3" style="stroke-width:7" d="M160 355L285 293L360 430L235 492ZM110 560L235 495L312 630L185 692ZM875 350L980 453L875 560L770 453Z"/>
<path class="ln3" d="M160 355L360 430M285 293L235 492M110 560L312 630M235 495L185 692M770 453H980M875 350V560"/>
<path class="at Z" d="M262 382h.1M212 580h.1M873 440h.1"/>
<path class="oc2" d="M620 355L718 372L748 565L655 548ZM1137 420L1263 410L1392 408L1375 540L1248 548L1123 553ZM335 690L378 832L237 928L197 790ZM1016 730L1182 707L1170 848L1005 875ZM663 898L791 888L920 885L903 1022L776 1030L650 1035ZM512 1068L622 1092L632 1292L520 1268ZM1114 1090L1220 998L1330 912L1395 1067L1290 1160L1180 1248Z"/>
<path class="ln2" d="M620 355L748 565M718 372L655 548M1263 410L1248 548M1137 420L1248 548M1263 410L1123 553M1263 410L1375 540M1392 408L1248 548M335 690L237 928M197 790L378 832M1016 730L1170 848M1182 707L1005 875M791 888L776 1030M663 898L776 1030M791 888L650 1035M791 888L903 1022M920 885L776 1030M512 1068L632 1292M622 1092L520 1268M1220 998L1290 1160M1220 998L1180 1248M1114 1090L1290 1160M1330 912L1290 1160M1220 998L1395 1067"/>
<path class="at K" d="M620 355h.1M718 372h.1M748 565h.1M655 548h.1M1137 420h.1M1263 410h.1M1392 408h.1M1375 540h.1M1248 548h.1M1123 553h.1M335 690h.1M378 832h.1M237 928h.1M197 790h.1M1016 730h.1M1182 707h.1M1170 848h.1M1005 875h.1M663 898h.1M791 888h.1M920 885h.1M903 1022h.1M776 1030h.1M650 1035h.1M512 1068h.1M622 1092h.1M632 1292h.1M520 1268h.1M1114 1090h.1M1220 998h.1M1330 912h.1M1395 1067h.1M1290 1160h.1M1180 1248h.1"/>
<path class="at Z" d="M683 457h.1M1191 484h.1M1316 477h.1M288 808h.1M1090 790h.1M718 963h.1M845 958h.1M572 1185h.1M1198 1130h.1M1305 1037h.1"/>
<path class="at Y" d="M262 382h.1M212 580h.1M873 440h.1M683 457h.1M1191 484h.1M1316 477h.1M288 808h.1M1090 790h.1M718 963h.1M845 958h.1M572 1185h.1M1198 1130h.1M1305 1037h.1"/>
<path class="bd" d="M412 497L497 553M497 553L596 505M497 553L500 684M1240 850L1307 767M1307 767L1293 640M1307 767L1413 795M699 1260L775 1332M775 1332L880 1302M775 1332L764 1462"/>
<path class="cs" d="M783 272L716 145M993 555L1096 645M465 813L509 954M1118 980L990 975M1243 1362L1126 1418"/>
<path class="at G" d="M783 272h.1M993 555h.1M465 813h.1M1118 980h.1M1243 1362h.1"/>
<path class="at I" d="M716 145h.1M1096 645h.1M509 954h.1M990 975h.1M1126 1418h.1"/>
<path class="bd" style="stroke-width:4" d="M352 185L302 178M302 178L268 123M302 178L255 232M268 123L218 118M495 195L538 205M538 205L578 162M538 205L572 254M1060 240L1010 232M1010 232L978 176M1010 232L963 285M978 176L927 170M1203 250L1245 258M1245 258L1287 217M1245 258L1280 310M697 745L650 770M650 770L600 738M650 770L628 842M600 738L552 760M832 690L870 668M870 668L890 610M870 668L922 697M365 1275L380 1330M380 1330L440 1362M380 1330L352 1388M352 1388L366 1445M330 1118L311 1065M311 1065L336 1008M311 1065L262 1036M993 1222L1040 1237M1040 1237L1097 1198M1040 1237L1062 1298M1062 1298L1110 1318M858 1165L816 1148M816 1148L793 1090M816 1148L770 1175"/>
<polygon class="ring" points="390,118 465,125 495,195 457,270 380,262 352,185"/>
<polygon class="ring" points="1100,170 1173,177 1203,250 1165,322 1092,315 1060,240"/>
<polygon class="ring" points="775,635 832,690 825,770 755,805 697,745 707,665"/>
<polygon class="ring" points="330,1118 395,1130 415,1210 365,1275 295,1262 277,1183"/>
<polygon class="ring" points="915,1108 985,1135 993,1222 945,1275 873,1248 858,1165"/>
<path class="at HO" d="M596 505h.1M500 684h.1M1293 640h.1M1413 795h.1M880 1302h.1M764 1462h.1"/>
<path class="at HI" d="M596 505h.1M500 684h.1M1293 640h.1M1413 795h.1M880 1302h.1M764 1462h.1"/>
<path class="at hO" d="M218 118h.1M578 162h.1M572 254h.1M927 170h.1M1287 217h.1M1280 310h.1M552 760h.1M890 610h.1M922 697h.1M366 1445h.1M336 1008h.1M262 1036h.1M1110 1318h.1M793 1090h.1M770 1175h.1"/>
<path class="at hI" d="M218 118h.1M578 162h.1M572 254h.1M927 170h.1M1287 217h.1M1280 310h.1M552 760h.1M890 610h.1M922 697h.1M366 1445h.1M336 1008h.1M262 1036h.1M1110 1318h.1M793 1090h.1M770 1175h.1"/>
<path class="at C" d="M302 178h.1M1010 232h.1M650 770h.1M380 1330h.1M1040 1237h.1"/>
<path class="at CI" d="M302 178h.1M1010 232h.1M650 770h.1M380 1330h.1M1040 1237h.1"/>
<path class="at N" d="M538 205h.1M1245 258h.1M870 668h.1M311 1065h.1M816 1148h.1"/>
<path class="at S" d="M497 553h.1M1307 767h.1M775 1332h.1"/>
<path class="at O" d="M412 497h.1M1240 850h.1M699 1260h.1M268 123h.1M255 232h.1M978 176h.1M963 285h.1M600 738h.1M628 842h.1M440 1362h.1M352 1388h.1M1097 1198h.1M1062 1298h.1"/>
<path class="cb" style="stroke-width:7" d="M265 385L412 497M883 438L963 285M1090 790L1240 850M635 862L725 950M580 1185L699 1260M1197 1130L1097 1198"/>
<path class="hb" style="stroke-width:6" d="M572 254L620 360M1283 310L1385 400M922 697L1012 725M237 945L262 1036"/>
</g>

<!-- Arrow 2 -->
<polygon fill="#e54e63" points="2184,1420 2550,1420 2550,1403 2586,1439 2550,1476 2550,1456 2184,1456"/>
<text x="2248" y="1395" font-size="51" textLength="240" lengthAdjust="spacingAndGlyphs" style="fill:#f00000">Annealing</text>

<!-- Scene 3 -->
<g transform="translate(2500,1200) scale(.5395,.3571)">
<rect x="365" y="438" width="893" height="882" fill="#37455c"/>
<use href="#c1" x="360" y="438"/><use href="#c1" x="582" y="438"/><use href="#c1" x="805" y="438"/><use href="#c1" x="1030" y="438"/><use href="#c1" x="1252" y="438"/>
<use href="#c2" x="365" y="727"/><use href="#c2" x="587" y="727"/><use href="#c2" x="808" y="727"/><use href="#c2" x="1033" y="727"/><use href="#c2" x="1254" y="727"/>
<use href="#c3" x="370" y="1030"/><use href="#c3" x="592" y="1030"/><use href="#c3" x="810" y="1030"/><use href="#c3" x="1035" y="1030"/><use href="#c3" x="1258" y="1030"/>
<use href="#c4" x="372" y="1320"/><use href="#c4" x="594" y="1320"/><use href="#c4" x="812" y="1320"/><use href="#c4" x="1037" y="1320"/><use href="#c4" x="1258" y="1320"/>
<path d="M468 450L550 555L468 665L385 555ZM693 455L760 540L680 650L610 560ZM910 450L980 545L890 665L815 565ZM1138 455L1205 555L1115 665L1050 575ZM475 740L548 845L452 970L378 870ZM692 740L765 830L675 965L600 880ZM915 745L988 835L890 965L815 875ZM1140 745L1212 835L1115 970L1045 870ZM478 1040L540 1130L452 1255L385 1165ZM700 1045L762 1130L675 1255L610 1170ZM915 1040L985 1130L890 1255L822 1165ZM1140 1040L1212 1130L1118 1260L1052 1165Z" fill="#fff" stroke="#4f7fcb" stroke-width="5" stroke-linejoin="round"/>
<g fill="#6fb543">
<ellipse cx="468" cy="562" rx="29" ry="40"/><ellipse cx="690" cy="562" rx="28" ry="40"/><ellipse cx="892" cy="575" rx="28" ry="42"/><ellipse cx="1116" cy="577" rx="28" ry="40"/>
<ellipse cx="466" cy="852" rx="28" ry="40"/><ellipse cx="691" cy="847" rx="28" ry="42"/><ellipse cx="892" cy="835" rx="28" ry="42"/><ellipse cx="1116" cy="838" rx="28" ry="42"/>
<ellipse cx="474" cy="1150" rx="30" ry="48"/><ellipse cx="694" cy="1152" rx="30" ry="48"/><ellipse cx="896" cy="1167" rx="30" ry="50"/><ellipse cx="1121" cy="1162" rx="30" ry="48"/>
</g>
<path class="bd" style="stroke-width:4" d="M310 98H373M373 98L415 145M415 145L365 197M415 145H480M648 145H703M703 145L745 105M703 145L745 187M813 98H875M875 98L918 145M918 145L867 197M918 145H982M1153 145H1208M1208 145L1250 105M1208 145L1250 187"/>
<polygon class="ring" points="515,78 610,78 648,145 610,213 515,213 480,145"/>
<polygon class="ring" points="1017,78 1112,78 1153,145 1112,213 1017,213 982,145"/>
<path class="at hO" d="M310 98h.1M745 105h.1M745 187h.1M813 98h.1M1250 105h.1M1250 187h.1"/>
<path class="at hI" d="M310 98h.1M745 105h.1M745 187h.1M813 98h.1M1250 105h.1M1250 187h.1"/>
<path class="at C" d="M415 145h.1M918 145h.1"/>
<path class="at CI" d="M415 145h.1M918 145h.1"/>
<path class="at N" d="M703 145h.1M1208 145h.1"/>
<path class="at O" d="M373 98h.1M365 197h.1M875 98h.1M867 197h.1"/>
</g>

<!-- Legend -->
<g transform="translate(300,1840) scale(1.754,.3333)">
<path fill="none" stroke="#4472c4" stroke-width="14" d="M57 240H103"/>
<path class="at I" d="M57 240h.1"/>
<path class="at G" style="stroke-width:46" d="M103 240h.1"/>
<polygon class="oc2" style="stroke:#2f5597;stroke-width:6" points="218,100 270,93 265,380 213,380"/>
<path class="ln2" style="stroke-width:4" d="M218 100L265 380M270 93L213 380"/>
<path class="at K" style="stroke-width:16" d="M218 100h.1M270 93h.1M265 380h.1M213 380h.1"/>
<path class="at Y" style="stroke-width:10" d="M240 240h.1"/>
<path class="bd" style="stroke-width:6" d="M445 70V285M447 285L411 420M447 285L482 420"/>
<path class="at HO" style="stroke-width:24" d="M411 420h.1M482 420h.1"/>
<path class="at HI" style="stroke-width:16" d="M411 420h.1M482 420h.1"/>
<path class="at S" style="stroke-width:30" d="M447 285h.1"/>
<path class="at O" style="stroke-width:28" d="M445 70h.1"/>
<path class="bd" d="M648 245L633 155M648 245L633 335M648 245H668M735 245H752M752 245L771 130M752 245L767 345M767 345H790"/>
<polygon class="ring" style="stroke-width:7" points="685,95 717,95 735,240 717,390 685,390 668,240"/>
<path class="at hO" style="stroke-width:14" d="M633 155h.1M633 335h.1M790 345h.1"/>
<path class="at hI" style="stroke-width:9" d="M633 155h.1M633 335h.1M790 345h.1"/>
<path class="at N" style="stroke-width:22" d="M648 245h.1"/>
<path class="at C" style="stroke-width:20" d="M752 245h.1"/>
<path class="at CI" style="stroke-width:12" d="M752 245h.1"/>
<path class="at O" style="stroke-width:28" d="M771 130h.1M767 345h.1"/>
</g>
<path d="M1926 1920H2005" stroke="#000" stroke-width="7" stroke-dasharray="11 8" fill="none"/>
<path d="M2493 1920H2572" stroke="#e04a60" stroke-width="7" stroke-dasharray="11 8" fill="none"/>
<g font-size="48">
<text x="528" y="1934" textLength="79" lengthAdjust="spacingAndGlyphs">CsI</text>
<text x="800" y="1934" textLength="149" lengthAdjust="spacingAndGlyphs">PbBr<tspan dy="8" font-size="32">2</tspan></text>
<text x="1177" y="1934" textLength="167" lengthAdjust="spacingAndGlyphs">DMSO</text>
<text x="1712" y="1934" textLength="149" lengthAdjust="spacingAndGlyphs">PABA</text>
<text x="2028" y="1934" textLength="404" lengthAdjust="spacingAndGlyphs">Coordinate bond</text>
<text x="2589" y="1934" textLength="374" lengthAdjust="spacingAndGlyphs">Hydrogen bond</text>
</g>
</svg>
</body></html>
